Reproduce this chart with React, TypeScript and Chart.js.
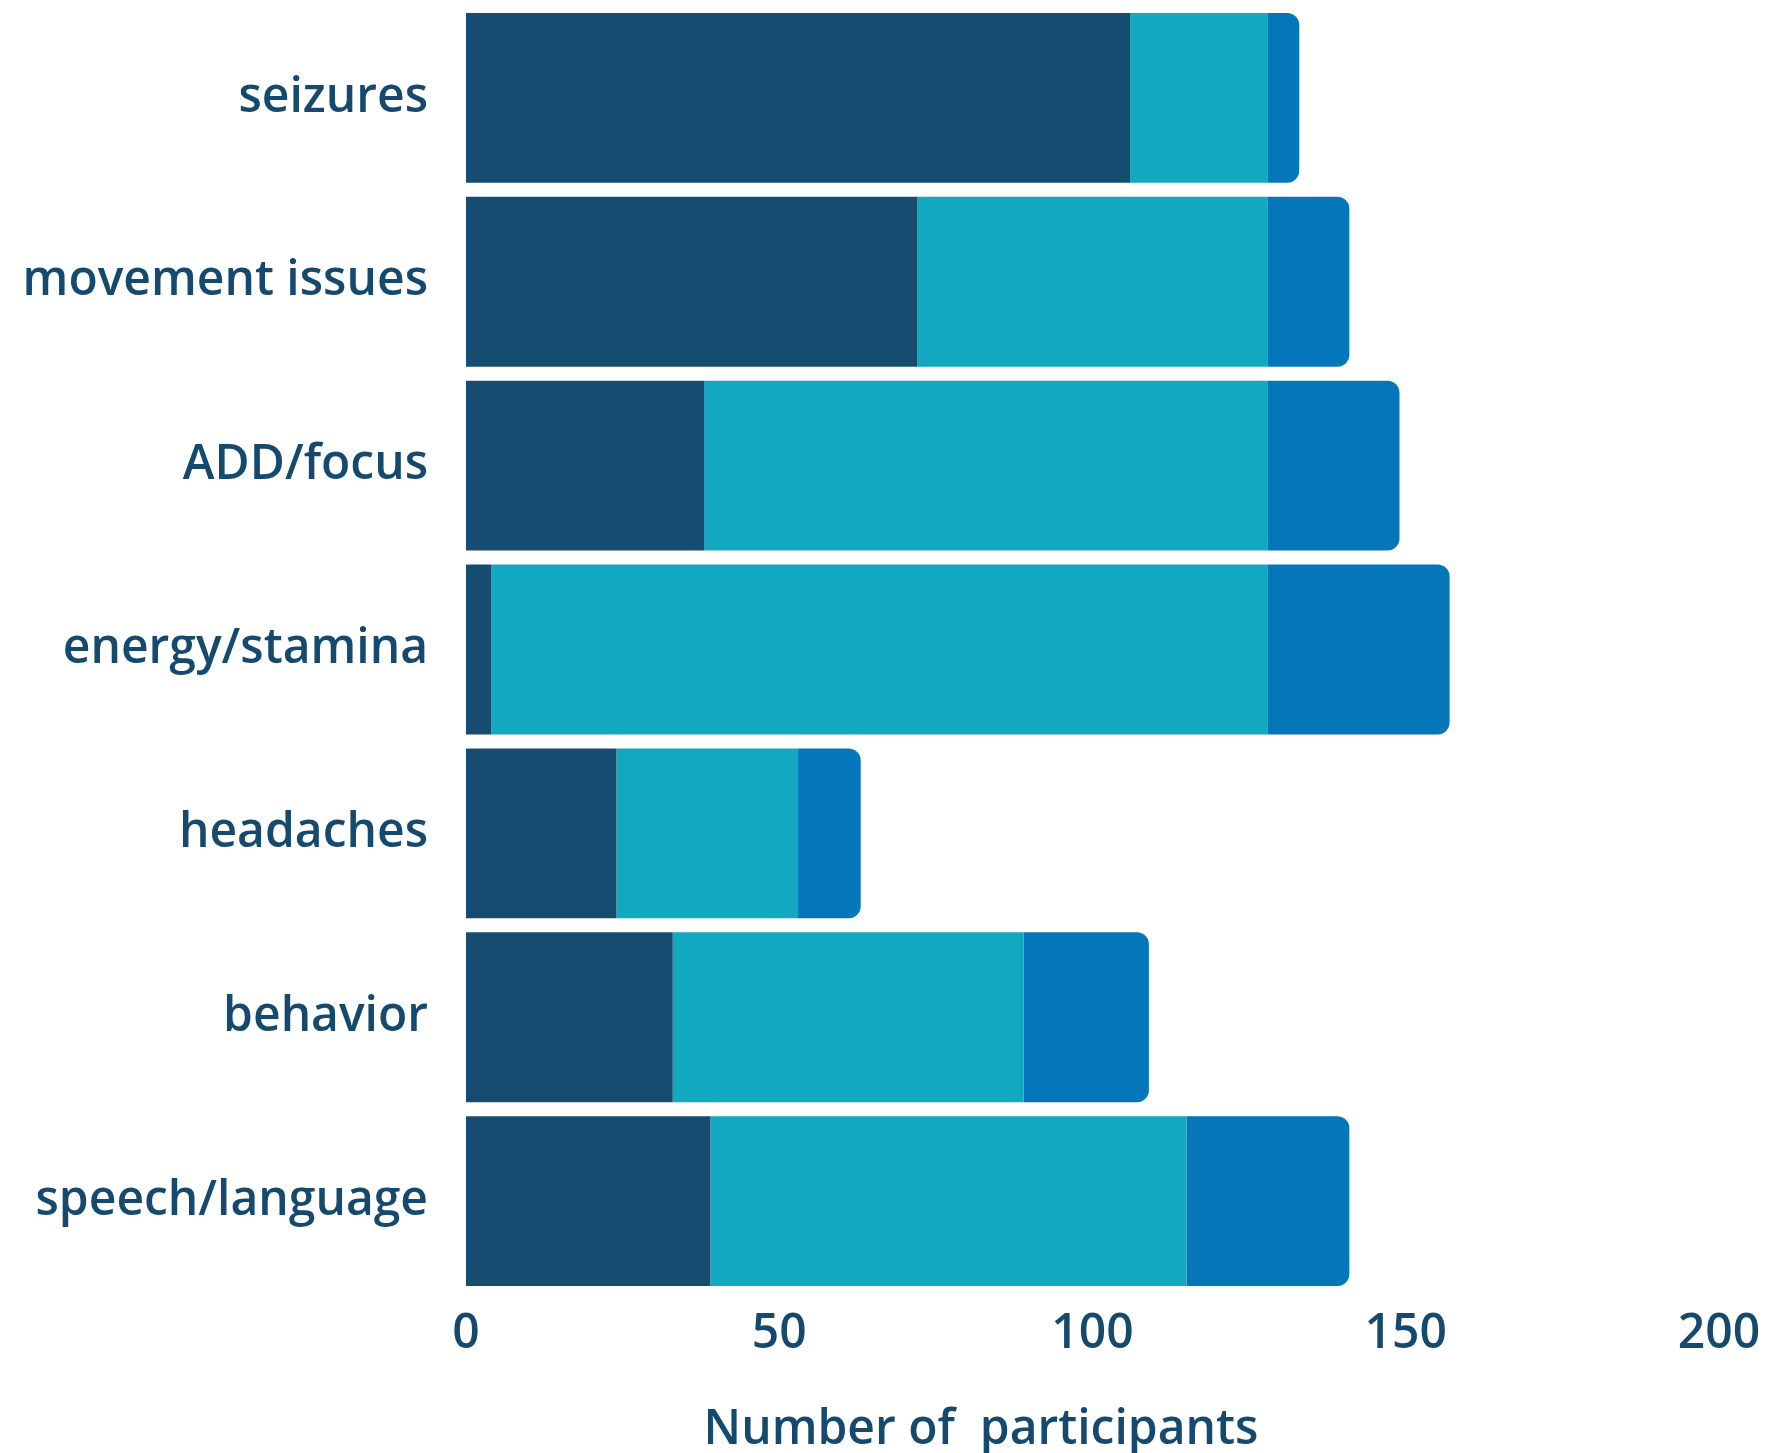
import React, { useEffect, useRef } from 'react';
import { Chart, registerables } from 'chart.js';

Chart.register(...registerables);

const categories = ['seizures', 'movement issues', 'ADD/focus', 'energy/stamina', 'headaches', 'behavior', 'speech/language'];
const seriesA = [106, 72, 38, 4, 24, 33, 39];
const seriesB = [22, 56, 90, 124, 29, 56, 76];
const seriesC = [5, 13, 21, 29, 10, 20, 26];
const seriesNames = ['Group 1', 'Group 2', 'Group 3'];
const xTicks = [0, 50, 100, 150, 200];
const xTitle = 'Number of  participants';

const COLORS = ['#154c70', '#12a8bf', '#0476ba'];
const TEXT = '#154a6e';
const FONT_FAMILY = "'Open Sans', sans-serif";

const titlePlugin = {
  id: 'xTitleCustom',
  afterDraw(chart: any) {
    const { ctx, chartArea, scales } = chart;
    const x = chartArea.left + (chartArea.right - chartArea.left) * 0.411;
    const y = scales.x.bottom - 23;
    ctx.save();
    ctx.font = `600 48px ${FONT_FAMILY}`;
    ctx.fillStyle = TEXT;
    ctx.textAlign = 'center';
    ctx.textBaseline = 'middle';
    ctx.fillText(xTitle, x, y);
    ctx.restore();
  },
};

export default function App() {
  const ref = useRef<HTMLCanvasElement>(null);

  useEffect(() => {
    document.body.style.margin = '0';
    if (!ref.current) return;
    const chart = new Chart(ref.current, {
      type: 'bar',
      data: {
        labels: categories,
        datasets: [
          { label: seriesNames[0], data: seriesA, backgroundColor: COLORS[0], borderWidth: 0 },
          { label: seriesNames[1], data: seriesB, backgroundColor: COLORS[1], borderWidth: 0 },
          { label: seriesNames[2], data: seriesC, backgroundColor: COLORS[2], borderWidth: 0, borderRadius: 12 },
        ],
      },
      options: {
        indexAxis: 'y',
        animation: false,
        responsive: false,
        devicePixelRatio: 1,
        layout: { padding: { top: 6, right: 48, bottom: 0, left: 0 } },
        datasets: { bar: { categoryPercentage: 1, barPercentage: 0.924 } },
        plugins: { legend: { display: false }, tooltip: { enabled: false }, title: { display: false } },
        scales: {
          x: {
            stacked: true,
            min: 0,
            max: 200,
            grid: { display: false, drawTicks: false },
            border: { display: false },
            ticks: {
              padding: 13,
              color: TEXT,
              font: { family: FONT_FAMILY, size: 48, weight: '600' as any },
            },
            afterBuildTicks: (s: any) => {
              s.ticks = xTicks.map((v) => ({ value: v }));
            },
            afterFit: (s: any) => {
              s.height = 160;
              s.paddingRight = 0;
            },
          },
          y: {
            stacked: true,
            grid: { display: false, drawTicks: false },
            border: { display: false },
            ticks: {
              padding: 38,
              color: TEXT,
              font: { family: FONT_FAMILY, size: 48, weight: '600' as any },
            },
            afterFit: (s: any) => {
              s.width = 466;
              s.paddingTop = 0;
              s.paddingBottom = 0;
            },
          },
        },
      },
      plugins: [titlePlugin],
    });
    return () => chart.destroy();
  }, []);

  return (
    <div style={{ width: 1767, height: 1453 }}>
      <canvas ref={ref} width={1767} height={1453} style={{ display: 'block' }} />
    </div>
  );
}
